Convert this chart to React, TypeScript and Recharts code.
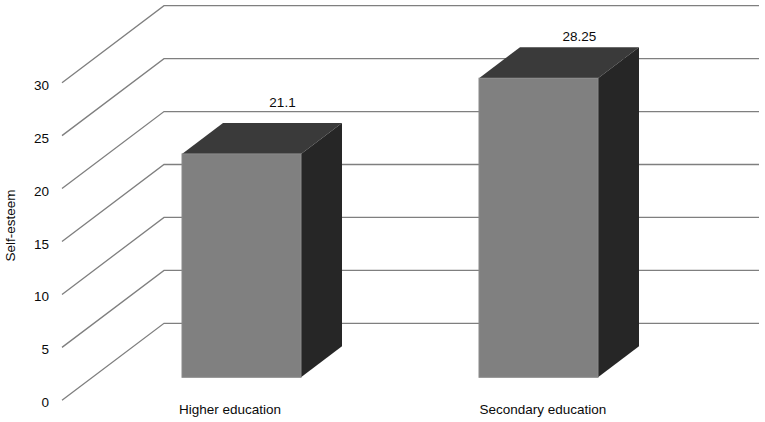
import { Bar, BarChart, CartesianGrid, LabelList, XAxis, YAxis } from 'recharts';

const categories = ['Higher education', 'Secondary education'];
const selfEsteem = [21.1, 28.25];
const valueLabels = ['21.1', '28.25'];
const yTicks = [0, 5, 10, 15, 20, 25, 30];

const data = categories.map((category, i) => ({
  category,
  selfEsteem: selfEsteem[i],
  valueLabel: valueLabels[i],
}));

const FONT = '"Liberation Sans", Arial, sans-serif';
const FONT_SIZE = 13.5;
const TEXT = '#0a0a0a';

// fake perspective: floor lines run back from the axis to the wall
const WALL_DX = 102;
const WALL_DY = 77;
const PLOT_TO_LINE_START = 31;
const GRID_END = 759;
// bars stand on the floor, a bit behind the front edge
const BAR_LIFT = 23;
const BAR_DX = 41;
const BAR_DY = 31;
// the value labels do not sit at the same height over their bars
const LABEL_RISE = [47, 37];
// neither are the category labels centred the same way
const TICK_SHIFT = [-62.5, -59];

function WallLine(props: any) {
  const { x1, y1, index } = props;
  const xs = x1 - PLOT_TO_LINE_START;
  return (
    <polyline
      key={`wall-${index}-${y1}`}
      points={`${xs},${y1} ${xs + WALL_DX},${y1 - WALL_DY} ${GRID_END},${y1 - WALL_DY}`}
      fill="none"
      stroke="#7f7f7f"
      strokeWidth={1.3}
    />
  );
}

function Bar3D(props: any) {
  const { x, y, width, height } = props;
  const top = y - BAR_LIFT;
  const bottom = y + height - BAR_LIFT;
  const right = x + width;
  return (
    <g>
      <polygon
        points={`${x},${top} ${x + BAR_DX},${top - BAR_DY} ${right + BAR_DX},${top - BAR_DY} ${right},${top}`}
        fill="#3a3a3a"
      />
      <polygon
        points={`${right},${top} ${right + BAR_DX},${top - BAR_DY} ${right + BAR_DX},${bottom - BAR_DY} ${right},${bottom}`}
        fill="#262626"
      />
      <rect x={x} y={top} width={width} height={bottom - top} fill="#808080" stroke="#8a8a8a" strokeWidth={1} />
    </g>
  );
}

function ValueLabel(props: any) {
  const { x, y, width, value, index } = props;
  return (
    <text
      x={x + width / 2 + BAR_DX}
      y={y - BAR_LIFT - LABEL_RISE[index]}
      textAnchor="middle"
      fontFamily={FONT}
      fontSize={FONT_SIZE}
      fill={TEXT}
    >
      {value}
    </text>
  );
}

function CategoryTick(props: any) {
  const { x, y, payload, index } = props;
  return (
    <text x={x + TICK_SHIFT[index]} y={y + 14} textAnchor="start" fontFamily={FONT} fontSize={FONT_SIZE} fill={TEXT}>
      {payload.value}
    </text>
  );
}

function ValueTick(props: any) {
  const { x, y, payload } = props;
  return (
    <text x={x} y={y + 7} textAnchor="end" fontFamily={FONT} fontSize={FONT_SIZE} fill={TEXT}>
      {payload.value}
    </text>
  );
}

export default function App() {
  return (
    <div style={{ position: 'absolute', left: 0, top: 0, width: 765, height: 422, background: '#fff' }}>
      <BarChart
        width={765}
        height={422}
        data={data}
        barSize={119}
        margin={{ top: 82.7, right: 78, bottom: 0, left: 0 }}
      >
        <CartesianGrid vertical={false} horizontal={WallLine} />
        <XAxis
          dataKey="category"
          height={21.7}
          axisLine={false}
          tickLine={false}
          tickSize={0}
          tickMargin={0}
          interval={0}
          tick={CategoryTick}
        />
        <YAxis
          width={93}
          domain={[0, 30]}
          ticks={yTicks}
          axisLine={false}
          tickLine={false}
          tickSize={0}
          tickMargin={44}
          tick={ValueTick}
          label={{
            value: 'Self-esteem',
            angle: -90,
            position: 'insideLeft',
            offset: 0,
            dx: 10,
            dy: 20,
            style: { fontFamily: FONT, fontSize: FONT_SIZE, fill: TEXT },
          }}
        />
        <Bar dataKey="selfEsteem" isAnimationActive={false} shape={Bar3D}>
          <LabelList dataKey="valueLabel" content={ValueLabel} />
        </Bar>
      </BarChart>
    </div>
  );
}
